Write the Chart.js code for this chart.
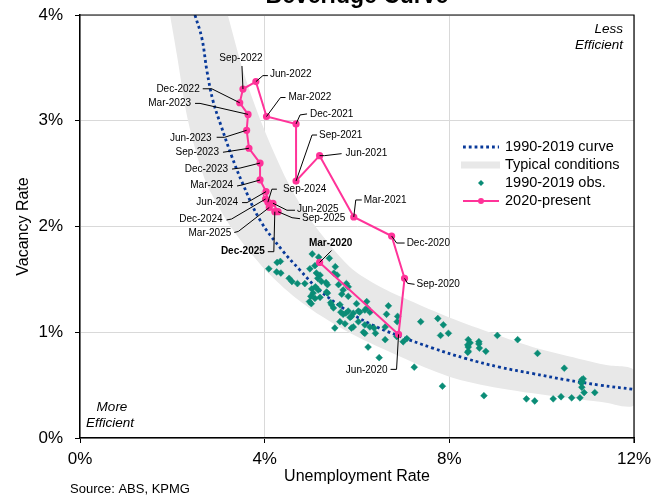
<!DOCTYPE html>
<html>
<head>
<meta charset="utf-8">
<script src="https://cdn.jsdelivr.net/npm/chart.js@4.4.1/dist/chart.umd.min.js"></script>
<style>
  html, body { margin: 0; padding: 0; background: #fff; }
  #wrap { width: 664px; height: 496px; }
</style>
</head>
<body>
<div id="wrap"><canvas id="chart-beveridge" width="664" height="496"></canvas></div>
<script>
// axis ticks (percent)
const xTicks = [0, 4, 8, 12]
const yTicks = [0, 1, 2, 3, 4]

// 1990-2019 fitted curve: unemployment %, vacancy %
const curveU = [2.49, 2.64, 2.75, 2.88, 3.05, 3.29, 3.51, 3.90, 4.39, 4.76, 5.13, 5.69, 6.28, 6.88, 7.64, 8.37, 9.09, 9.80, 10.54, 11.26, 12.00]
const curveV = [4.00, 3.78, 3.47, 3.19, 2.96, 2.66, 2.42, 2.06, 1.77, 1.59, 1.42, 1.23, 1.08, 0.97, 0.85, 0.75, 0.67, 0.61, 0.55, 0.50, 0.46]

// typical conditions band: lower-left edge (top to right), upper-right edge (right back to top)
const bandLowU = [1.95, 2.10, 2.34, 2.70, 3.05, 3.31, 3.68, 4.10, 4.60, 5.20, 5.90, 6.93, 8.00, 9.09, 10.54, 11.30, 12.00]
const bandLowV = [4.00, 3.62, 3.00, 2.45, 2.15, 1.97, 1.76, 1.55, 1.35, 1.16, 0.98, 0.77, 0.58, 0.47, 0.38, 0.34, 0.31]
const bandHighU = [12.00, 11.40, 10.80, 9.80, 9.00, 8.00, 7.14, 6.50, 5.84, 5.00, 4.50, 3.96, 3.55, 3.20]
const bandHighV = [0.64, 0.69, 0.75, 0.86, 0.98, 1.14, 1.30, 1.43, 1.62, 2.06, 2.42, 2.95, 3.45, 4.00]

// 1990-2019 quarterly observations
const obsU = [5.03, 5.17, 5.40, 4.98, 5.09, 5.12, 5.20, 5.15, 5.23, 5.33, 5.36, 5.02, 5.10, 5.16, 5.34, 5.53, 5.50, 5.57, 5.60, 5.77,
  5.81, 5.70, 5.67, 5.81, 5.05, 5.00, 4.97, 5.01, 5.09, 5.20, 5.36,
  4.09, 4.27, 4.34, 4.26, 4.35, 4.53, 4.59, 4.71, 4.87,
  5.45, 5.49, 5.43, 5.63, 5.65, 5.70, 5.76, 5.81, 5.85, 5.88, 5.92, 5.99, 6.03, 6.06, 6.17, 6.22, 6.28, 6.21, 6.03, 6.17,
  6.28, 6.37, 6.14, 6.17, 6.40, 5.92, 5.74, 5.52, 5.88, 5.63, 6.61, 6.61, 6.24, 6.48, 7.24, 6.86, 6.88, 6.87, 6.64, 6.68,
  7.00, 7.08, 7.38, 7.75, 7.87, 7.81, 7.98, 8.41, 8.45, 8.41, 8.40, 8.41, 8.40, 8.64, 8.64, 8.65, 8.79, 9.04, 9.48, 9.91,
  10.49, 10.87, 10.90, 10.88, 10.86, 10.87, 10.92, 11.15, 10.83, 10.65, 10.42, 10.25, 9.85, 9.67, 8.75, 7.85]
const obsV = [1.74, 1.71, 1.70, 1.60, 1.63, 1.56, 1.54, 1.51, 1.48, 1.47, 1.45, 1.41, 1.43, 1.40, 1.38, 1.62, 1.56, 1.54, 1.45, 1.46,
  1.43, 1.40, 1.36, 1.34, 1.37, 1.34, 1.29, 1.27, 1.32, 1.33, 1.37,
  1.60, 1.66, 1.67, 1.57, 1.56, 1.51, 1.48, 1.46, 1.46,
  1.26, 1.23, 1.28, 1.26, 1.19, 1.17, 1.18, 1.20, 1.14, 1.15, 1.18, 1.27, 1.20, 1.19, 1.21, 1.23, 1.19, 1.29, 1.10, 1.07,
  1.05, 1.04, 1.00, 0.99, 0.99, 1.05, 1.08, 1.04, 1.04, 1.10, 0.93, 1.05, 0.86, 0.76, 0.67, 0.96, 1.15, 1.10, 1.17, 1.25,
  0.91, 0.94, 1.10, 1.13, 1.07, 0.97, 0.99, 0.93, 0.90, 0.86, 0.88, 0.82, 0.81, 0.91, 0.89, 0.85, 0.82, 0.97, 0.93, 0.80,
  0.66, 0.55, 0.56, 0.53, 0.52, 0.48, 0.43, 0.43, 0.38, 0.38, 0.39, 0.37, 0.35, 0.37, 0.40, 0.49]

// 2020-present quarterly path
const recentLabels = ['Mar-2020', 'Jun-2020', 'Sep-2020', 'Dec-2020', 'Mar-2021', 'Jun-2021', 'Sep-2021', 'Dec-2021',
  'Mar-2022', 'Jun-2022', 'Sep-2022', 'Dec-2022', 'Mar-2023', 'Jun-2023', 'Sep-2023', 'Dec-2023',
  'Mar-2024', 'Jun-2024', 'Sep-2024', 'Dec-2024', 'Mar-2025', 'Jun-2025', 'Sep-2025', 'Dec-2025']
const recentU = [5.19, 6.90, 7.03, 6.75, 5.93, 5.19, 4.68, 4.68, 4.04, 3.81, 3.53, 3.46, 3.64, 3.61, 3.66, 3.90,
  3.90, 4.03, 4.07, 4.02, 4.10, 4.18, 4.29, 4.22]
const recentV = [1.66, 0.98, 1.51, 1.91, 2.09, 2.67, 2.43, 2.97, 3.04, 3.37, 3.30, 3.17, 3.06, 2.91, 2.74, 2.60,
  2.44, 2.33, 2.23, 2.26, 2.18, 2.22, 2.14, 2.14]

// where each date label sits relative to its point (px), and the leader line bends
const labelLayout = [
  { dx: 11, dy: -19, align: 'center', bold: true, path: [[12, -12]] },
  { dx: -11, dy: 36, align: 'right', path: [[-8, 35], [-2, 35]] },
  { dx: 12, dy: 6, align: 'left', path: [[10, 6], [3, 5]] },
  { dx: 15, dy: 7, align: 'left', path: [[13, 7], [5, 7]] },
  { dx: 10, dy: -17, align: 'left', path: [[8, -17], [2, -17]] },
  { dx: 26, dy: -2, align: 'left', path: [[22, -2], [5, 0]] },
  { dx: 23, dy: -46, align: 'left', path: [[21, -46], [16, -46]] },
  { dx: 14, dy: -10, align: 'left', path: [[11, -10], [4, -9]] },
  { dx: 22, dy: -19, align: 'left', path: [[19, -19], [14, -19]] },
  { dx: 14, dy: -7, align: 'left', path: [[12, -6], [7, -6]] },
  { dx: -2, dy: -31, align: 'center', path: [[-1, -23]] },
  { dx: -40, dy: -14, align: 'right', path: [[-37, -14], [-28, -14]] },
  { dx: -57, dy: -11, align: 'right', path: [[-53, -11], [-48, -11]] },
  { dx: -35, dy: 8, align: 'right', path: [[-30, 7], [-22, 7]] },
  { dx: -30, dy: 4, align: 'right', path: [[-26, 4], [-19, 3]] },
  { dx: -32, dy: 6, align: 'right', path: [[-28, 6], [-20, 5]] },
  { dx: -27, dy: 5, align: 'right', path: [[-23, 6], [-18, 5]] },
  { dx: -28, dy: 11, align: 'right', path: [[-24, 11], [-19, 11]] },
  { dx: 15, dy: -13, align: 'left', path: [[9, -13], [4, -13]] },
  { dx: -43, dy: 20, align: 'right', path: [[-39, 21], [-34, 20]] },
  { dx: -38, dy: 26, align: 'right', path: [[-35, 25], [-31, 24]] },
  { dx: 24, dy: 6, align: 'left', path: [[22, 7], [14, 7]] },
  { dx: 24, dy: 7, align: 'left', path: [[22, 7], [14, 6]] },
  { dx: -10, dy: 40, align: 'right', bold: true, path: [[-7, 40], [-1, 40]] }
]

const FONT = "'Liberation Sans', Arial, sans-serif"
const PINK = '#ff3399'
const TEAL = '#0a8c76'
const NAVY = '#08399a'
const BAND = '#e8e8e8'

Chart.defaults.font.family = FONT
Chart.defaults.color = '#000'

const pts = (us, vs) => us.map((u, i) => ({ x: u, y: vs[i] }))

const dateLabels = {
  id: 'dateLabels',
  afterDatasetsDraw(chart) {
    const { ctx, scales: { x, y } } = chart
    ctx.save()
    ctx.strokeStyle = '#000'
    ctx.lineWidth = 1
    ctx.fillStyle = '#000'
    ctx.textBaseline = 'middle'
    recentLabels.forEach((lab, i) => {
      const px = x.getPixelForValue(recentU[i])
      const py = y.getPixelForValue(recentV[i])
      const l = labelLayout[i]
      ctx.beginPath()
      l.path.forEach(([dx, dy], k) => {
        if (k === 0) ctx.moveTo(px + dx, py + dy)
        else ctx.lineTo(px + dx, py + dy)
      })
      ctx.lineTo(px, py)
      ctx.stroke()
      ctx.font = (l.bold ? 'bold ' : '') + '10px ' + FONT
      ctx.textAlign = l.align
      ctx.fillText(lab, px + l.dx, py + l.dy)
    })
    ctx.restore()
  }
}

const decorations = {
  id: 'decorations',
  afterDraw(chart) {
    const { ctx, chartArea: a } = chart
    ctx.save()
    // top and right frame
    ctx.strokeStyle = '#000'
    ctx.lineWidth = 1.2
    ctx.beginPath()
    ctx.moveTo(a.left, a.top)
    ctx.lineTo(a.right, a.top)
    ctx.lineTo(a.right, a.bottom + 5)
    ctx.stroke()

    ctx.fillStyle = '#000'
    ctx.font = 'bold 23px ' + FONT
    ctx.textAlign = 'center'
    ctx.textBaseline = 'alphabetic'
    ctx.fillText('Beveridge Curve', (a.left + a.right) / 2, 3)

    ctx.font = 'italic 13.5px ' + FONT
    ctx.textBaseline = 'middle'
    ctx.textAlign = 'right'
    ctx.fillText('Less', a.right - 11, 29)
    ctx.fillText('Efficient', a.right - 11, 45)
    ctx.textAlign = 'center'
    ctx.fillText('More', 112, 407)
    ctx.fillText('Efficient', 110, 423)

    ctx.font = '13px ' + FONT
    ctx.textAlign = 'left'
    ctx.fillText('Source: ABS, KPMG', 70, 489)

    // legend
    const lx0 = 463, lx1 = 499, tx = 505
    ctx.font = '14.5px ' + FONT
    ctx.textAlign = 'left'
    const rows = [147, 165, 183, 201]
    const names = ['1990-2019 curve', 'Typical conditions', '1990-2019 obs.', '2020-present']
    names.forEach((n, i) => ctx.fillText(n, tx, rows[i]))

    ctx.strokeStyle = NAVY
    ctx.lineWidth = 2.8
    ctx.setLineDash([2.8, 3])
    ctx.beginPath(); ctx.moveTo(lx0, rows[0]); ctx.lineTo(lx1, rows[0]); ctx.stroke()
    ctx.setLineDash([])

    ctx.strokeStyle = BAND
    ctx.lineWidth = 7
    ctx.beginPath(); ctx.moveTo(lx0 - 2, rows[1]); ctx.lineTo(lx1 + 1, rows[1]); ctx.stroke()

    ctx.fillStyle = TEAL
    const cx = (lx0 + lx1) / 2
    ctx.beginPath()
    ctx.moveTo(cx, rows[2] - 3); ctx.lineTo(cx + 3, rows[2]); ctx.lineTo(cx, rows[2] + 3); ctx.lineTo(cx - 3, rows[2])
    ctx.closePath(); ctx.fill()

    ctx.strokeStyle = PINK
    ctx.lineWidth = 2
    ctx.beginPath(); ctx.moveTo(lx0, rows[3]); ctx.lineTo(lx1, rows[3]); ctx.stroke()
    ctx.fillStyle = PINK
    ctx.beginPath(); ctx.arc(cx, rows[3], 3, 0, Math.PI * 2); ctx.fill()
    ctx.restore()
  }
}

new Chart(document.getElementById('chart-beveridge'), {
  type: 'scatter',
  data: {
    datasets: [
      {
        label: 'Typical conditions',
        data: pts(bandLowU, bandLowV).concat(pts(bandHighU, bandHighV)),
        showLine: true,
        fill: 'shape',
        backgroundColor: BAND,
        borderWidth: 0,
        pointRadius: 0,
        tension: 0.3,
        order: 4
      },
      {
        label: '1990-2019 curve',
        data: pts(curveU, curveV),
        showLine: true,
        borderColor: NAVY,
        borderWidth: 2.8,
        borderDash: [2.8, 3],
        pointRadius: 0,
        tension: 0.4,
        order: 3
      },
      {
        label: '1990-2019 obs.',
        data: pts(obsU, obsV),
        pointStyle: 'rectRot',
        pointRadius: 3.4,
        backgroundColor: TEAL,
        borderColor: TEAL,
        borderWidth: 0.5,
        order: 2
      },
      {
        label: '2020-present',
        data: pts(recentU, recentV),
        showLine: true,
        borderColor: PINK,
        backgroundColor: PINK,
        borderWidth: 2,
        pointRadius: 2.6,
        tension: 0,
        order: 1
      }
    ]
  },
  options: {
    responsive: false,
    animation: false,
    devicePixelRatio: 1,
    layout: { padding: { top: 15, right: 30, left: 0, bottom: 0 } },
    plugins: { legend: { display: false }, tooltip: { enabled: false } },
    scales: {
      x: {
        type: 'linear', min: 0, max: 12,
        afterBuildTicks: s => { s.ticks = xTicks.map(v => ({ value: v })) },
        afterFit: s => { s.height = 58; s.paddingLeft = 0; s.paddingRight = 0 },
        ticks: { callback: v => v + '%', font: { size: 17 }, padding: 6, color: '#000', maxRotation: 0 },
        grid: { color: '#d9d9d9', tickColor: '#000', tickLength: 5 },
        border: { color: '#000', width: 1.5 },
        title: { display: true, text: 'Unemployment Rate', font: { size: 16 }, color: '#000', padding: { top: 0, bottom: 10 } }
      },
      y: {
        type: 'linear', min: 0, max: 4,
        afterBuildTicks: s => { s.ticks = yTicks.map(v => ({ value: v })) },
        afterFit: s => { s.width = 80; s.paddingTop = 0; s.paddingBottom = 0 },
        ticks: { callback: v => v + '%', font: { size: 17 }, padding: 12, color: '#000' },
        grid: { color: '#d9d9d9', tickColor: '#000', tickLength: 5 },
        border: { color: '#000', width: 1.5 },
        title: { display: true, text: 'Vacancy Rate', font: { size: 16 }, color: '#000', padding: { top: 14, bottom: 0 } }
      }
    }
  },
  plugins: [dateLabels, decorations]
})
</script>
</body>
</html>
